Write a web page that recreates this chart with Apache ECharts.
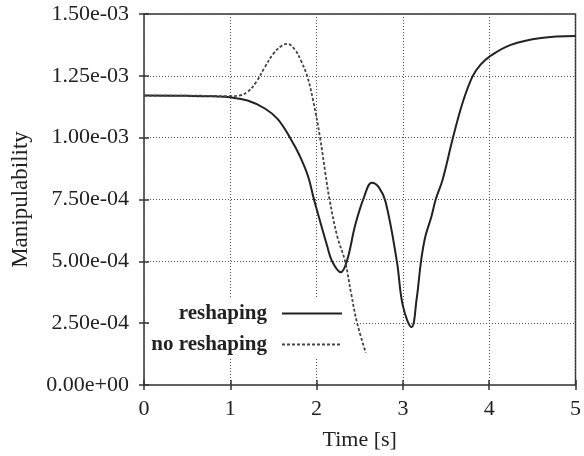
<!DOCTYPE html>
<html>
<head>
<meta charset="utf-8">
<script src="https://cdn.jsdelivr.net/npm/echarts@6/dist/echarts.min.js"></script>
<style>
  html, body { margin: 0; padding: 0; background: #fff; }
  #chart { width: 584px; height: 456px; }
</style>
</head>
<body>
<div id="chart"></div>
<script>
// curves: [time s, manipulability]
const reshaping = [
  [0, 1.170e-3], [0.5, 1.169e-3], [0.8, 1.167e-3], [1.0, 1.163e-3], [1.2, 1.150e-3],
  [1.4, 1.118e-3], [1.55, 1.075e-3], [1.7, 0.995e-3], [1.8, 0.930e-3], [1.9, 0.845e-3],
  [1.97, 0.750e-3], [2.05, 0.650e-3], [2.12, 0.565e-3], [2.18, 0.500e-3], [2.28, 0.456e-3],
  [2.35, 0.500e-3], [2.45, 0.650e-3], [2.55, 0.760e-3], [2.64, 0.818e-3], [2.72, 0.800e-3],
  [2.80, 0.740e-3], [2.93, 0.500e-3], [3.0, 0.320e-3], [3.10, 0.234e-3], [3.16, 0.350e-3],
  [3.21, 0.500e-3], [3.26, 0.600e-3], [3.33, 0.680e-3], [3.38, 0.750e-3], [3.46, 0.830e-3],
  [3.58, 1.000e-3], [3.70, 1.150e-3], [3.81, 1.250e-3], [3.90, 1.295e-3], [4.0, 1.327e-3],
  [4.25, 1.375e-3], [4.6, 1.403e-3], [5.0, 1.411e-3]
];
const noReshaping = [
  [0, 1.170e-3], [0.5, 1.170e-3], [1.0, 1.168e-3], [1.1, 1.170e-3], [1.2, 1.185e-3],
  [1.3, 1.225e-3], [1.4, 1.285e-3], [1.5, 1.340e-3], [1.6, 1.373e-3], [1.66, 1.379e-3],
  [1.75, 1.355e-3], [1.82, 1.310e-3], [1.89, 1.250e-3], [1.96, 1.150e-3], [2.04, 1.000e-3],
  [2.10, 0.860e-3], [2.15, 0.750e-3], [2.24, 0.600e-3], [2.33, 0.500e-3], [2.40, 0.370e-3],
  [2.47, 0.250e-3], [2.57, 0.130e-3]
];
const yTickLabels = ['0.00e+00', '2.50e-04', '5.00e-04', '7.50e-04', '1.00e-03', '1.25e-03', '1.50e-03'];
const xTickLabels = ['0', '1', '2', '3', '4', '5'];

const FONT = 'Liberation Serif';
const chart = echarts.init(document.getElementById('chart'));

const gridLine = { show: true, lineStyle: { color: '#555', type: [1, 2], width: 1 } };
const tickIn = { show: true, inside: true, length: 5, lineStyle: { color: '#333', width: 1.5 } };

chart.setOption({
  backgroundColor: '#fff',
  animation: false,
  grid: { left: 144, right: 6, top: 14, bottom: 70, show: true, borderColor: '#333', borderWidth: 1.5 },
  xAxis: [{
    type: 'value', min: 0, max: 5, interval: 1,
    name: 'Time [s]', nameLocation: 'middle', nameGap: 44,
    nameTextStyle: { fontFamily: FONT, fontSize: 22, color: '#222' },
    axisLine: { show: false },
    axisTick: tickIn,
    splitLine: gridLine,
    axisLabel: { margin: 13, fontFamily: FONT, fontSize: 22, color: '#222',
      formatter: v => xTickLabels[Math.round(v)] }
  }, {
    type: 'value', position: 'top', min: 0, max: 5, interval: 1,
    axisLine: { show: false }, axisTick: tickIn, axisLabel: { show: false }, splitLine: { show: false }
  }],
  yAxis: [{
    type: 'value', min: 0, max: 1.5e-3, interval: 2.5e-4,
    name: 'Manipulability', nameLocation: 'middle', nameGap: 112,
    nameTextStyle: { fontFamily: FONT, fontSize: 23, color: '#222' },
    axisLine: { show: false },
    axisTick: tickIn,
    splitLine: gridLine,
    axisLabel: { margin: 15, fontFamily: FONT, fontSize: 22, color: '#222',
      formatter: v => yTickLabels[Math.round(v / 2.5e-4)] }
  }, {
    type: 'value', position: 'right', min: 0, max: 1.5e-3, interval: 2.5e-4,
    axisLine: { show: false }, axisTick: tickIn, axisLabel: { show: false }, splitLine: { show: false }
  }],
  legend: [{
    data: ['reshaping'], right: 236, top: 298, align: 'right', itemWidth: 60, itemHeight: 14,
    itemStyle: { opacity: 0 },
    textStyle: { fontFamily: FONT, fontSize: 21, fontWeight: 'bold', color: '#222', padding: [0, 10, 0, 0] }
  }, {
    data: ['no reshaping'], right: 236, top: 329, align: 'right', itemWidth: 60, itemHeight: 14,
    itemStyle: { opacity: 0 },
    textStyle: { fontFamily: FONT, fontSize: 21, fontWeight: 'bold', color: '#222', padding: [0, 10, 0, 0] }
  }],
  // white key box that hides the grid behind the legend, as gnuplot does
  graphic: [{
    type: 'rect', z: 1, shape: { x: 150, y: 297, width: 202, height: 60 },
    style: { fill: '#fff' }, silent: true
  }],
  series: [{
    name: 'reshaping', type: 'line', data: reshaping, smooth: 0.4,
    symbol: 'none', z: 3,
    lineStyle: { color: '#222', width: 2 }, itemStyle: { color: '#222' }
  }, {
    name: 'no reshaping', type: 'line', data: noReshaping, smooth: 0.4,
    symbol: 'none', z: 3,
    lineStyle: { color: '#444', width: 1.8, type: [3, 2] }, itemStyle: { color: '#444' }
  }]
});
</script>
</body>
</html>
